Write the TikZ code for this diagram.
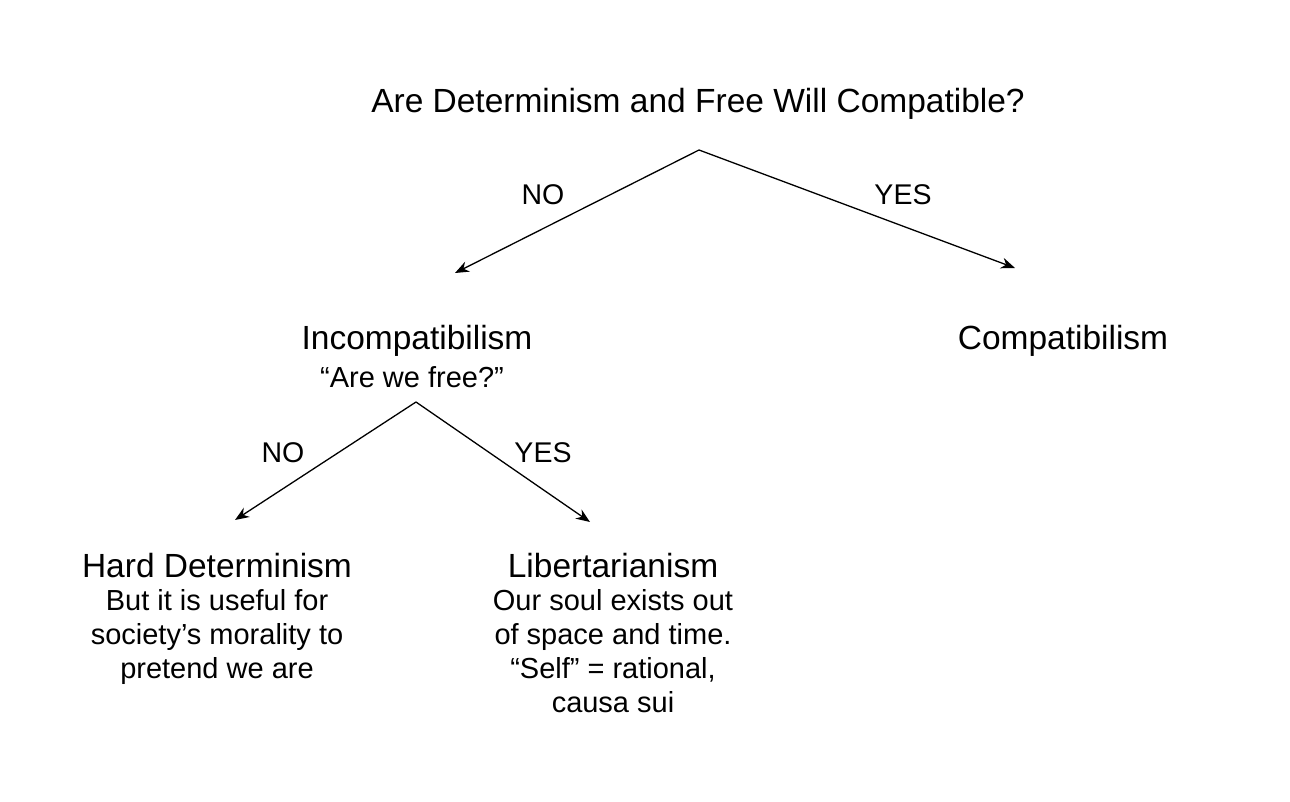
\documentclass[tikz,border=0pt]{standalone}
\usepackage{fontspec}
\setmainfont{Liberation Sans}
\usetikzlibrary{arrows.meta}
\begin{document}
\begin{tikzpicture}[x=1pt,y=-1pt,
  big/.style={font=\fontsize{33.5}{38}\selectfont, inner sep=0pt},
  small/.style={font=\fontsize{29}{34}\selectfont, inner sep=0pt, align=center},
  lbl/.style={font=\fontsize{28.5}{32}\selectfont, inner sep=0pt},
  conn/.style={line width=1.3pt, -{Stealth[length=14pt,width=11pt]}}]
\fill[white] (0,0) rectangle (1290,802);
\useasboundingbox (0,0) rectangle (1290,802);
\node[big] (q) at (698,104) {Are Determinism and Free Will Compatible?};
\node[big] (inc) at (417,341) {Incompatibilism};
\node[small] (incq) at (412,377) {“Are we free?”};
\node[big] (comp) at (1063,341) {Compatibilism};
\node[big] (hd) at (217,566) {Hard Determinism};
\node[small,anchor=north] (hdt) at (217,589) {But it is useful for\\society’s morality to\\pretend we are};
\node[big] (lib) at (613,566) {Libertarianism};
\node[small,anchor=north] (libt) at (613,589) {Our soul exists out\\of space and time.\\“Self” = rational,\\causa sui};
\coordinate (s1) at (699,150);
\coordinate (e1) at (455,273);
\coordinate (e2) at (1015,268);
\coordinate (s2) at (416,402);
\coordinate (e3) at (235,520);
\coordinate (e4) at (590,522);
\draw[conn] (s1) -- (e1);
\draw[conn] (s1) -- (e2);
\draw[conn] (s2) -- (e3);
\draw[conn] (s2) -- (e4);
\node[lbl] (n1) at (543,195) {NO};
\node[lbl] (y1) at (903,195) {YES};
\node[lbl] (n2) at (283,453) {NO};
\node[lbl] (y2) at (543,453) {YES};
\end{tikzpicture}
\end{document}
